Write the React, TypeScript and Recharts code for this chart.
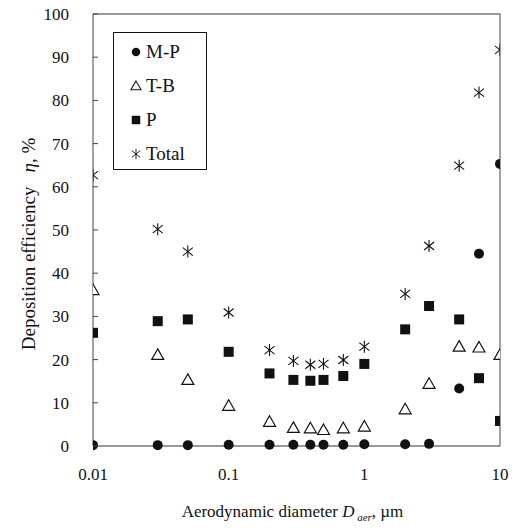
import { ScatterChart, Scatter, XAxis, YAxis, ReferenceLine, Legend, Label } from 'recharts';

// aerodynamic diameter, µm
const diameters = [0.01, 0.03, 0.05, 0.1, 0.2, 0.3, 0.4, 0.5, 0.7, 1, 2, 3, 5, 7, 10];

// deposition efficiency, %
const mpValues = [0.2, 0.2, 0.2, 0.3, 0.3, 0.3, 0.3, 0.3, 0.3, 0.4, 0.4, 0.5, 13.3, 44.5, 65.3];
const tbValues = [36.1, 21.1, 15.3, 9.3, 5.6, 4.2, 4.1, 3.7, 4.1, 4.5, 8.5, 14.4, 23.0, 22.8, 21.1];
const pValues = [26.2, 28.9, 29.3, 21.8, 16.8, 15.3, 15.1, 15.3, 16.2, 19.0, 27.0, 32.4, 29.3, 15.7, 5.8];
const totalValues = [62.7, 50.2, 45.0, 30.9, 22.2, 19.7, 18.8, 19.0, 19.9, 23.0, 35.2, 46.3, 64.9, 81.8, 91.7];

const xTicks = [0.01, 0.1, 1, 10];
const yTicks = [0, 10, 20, 30, 40, 50, 60, 70, 80, 90, 100];
const seriesNames = ['M-P', 'T-B', 'P', 'Total'];

const INK = '#111';
const FONT = 'Liberation Serif';

const toPoints = (ys: number[]) => diameters.map((x, i) => ({ x, y: ys[i] }));

const Dot = ({ cx, cy }: any) => <circle cx={cx} cy={cy} r={5} fill={INK} />;
const Tri = ({ cx, cy }: any) => (
  <path
    d={`M${cx},${cy - 6}L${cx + 6},${cy + 4.5}L${cx - 6},${cy + 4.5}Z`}
    fill="#fff"
    stroke={INK}
    strokeWidth={1.2}
  />
);
const Sq = ({ cx, cy }: any) => <rect x={cx - 5} y={cy - 5} width={10} height={10} fill={INK} />;
const Star = ({ cx, cy }: any) => (
  <g stroke={INK} strokeWidth={1.1}>
    <line x1={cx} y1={cy - 6} x2={cx} y2={cy + 6} />
    <line x1={cx - 5} y1={cy - 4} x2={cx + 5} y2={cy + 4} />
    <line x1={cx - 5} y1={cy + 4} x2={cx + 5} y2={cy - 4} />
  </g>
);

const shapes = [Dot, Tri, Sq, Star];

const renderYTick = (p: any) => (
  <g key={`y${p.payload.value}`}>
    <line x1={p.x + 24} x2={p.x + 29} y1={p.y} y2={p.y} stroke="#444" />
    <text x={p.x} y={p.y + 6} textAnchor="end" fontFamily={FONT} fontSize={17} fill={INK}>
      {p.payload.value}
    </text>
  </g>
);

const renderXTick = (p: any) => (
  <text
    key={`x${p.payload.value}`}
    x={p.x}
    y={p.y + 34}
    textAnchor="middle"
    fontFamily={FONT}
    fontSize={17}
    fill={INK}
  >
    {p.payload.value}
  </text>
);

function LegendBox() {
  return (
    <div
      style={{
        border: `1px solid ${INK}`,
        width: 94,
        height: 138,
        boxSizing: 'border-box',
        paddingTop: 2,
        background: '#fff',
        fontFamily: FONT,
        fontSize: 19,
        color: INK,
      }}
    >
      {seriesNames.map((name, i) => {
        const Shape = shapes[i];
        return (
          <div key={name} style={{ height: 34, display: 'flex', alignItems: 'center' }}>
            <svg width={14} height={14} style={{ marginLeft: 15, marginRight: 3 }}>
              <g transform="translate(7,7) scale(0.85) translate(-7,-7)">
                <Shape cx={7} cy={7} />
              </g>
            </svg>
            <span>{name}</span>
          </div>
        );
      })}
    </div>
  );
}

function XLabel({ viewBox }: any) {
  const cx = viewBox.x + viewBox.width / 2 - 4;
  return (
    <text x={cx} y={viewBox.y + 71} textAnchor="middle" fontFamily={FONT} fontSize={17} fill={INK}>
      Aerodynamic diameter{' '}
      <tspan fontStyle="italic">D</tspan>
      <tspan fontStyle="italic" fontSize={11} dy={4}> aer</tspan>
      <tspan dy={-4}>, µm</tspan>
    </text>
  );
}

function YLabel({ viewBox }: any) {
  const cy = viewBox.y + viewBox.height / 2 + 14;
  const cx = 29;
  return (
    <text
      x={cx}
      y={cy}
      transform={`rotate(-90, ${cx}, ${cy})`}
      dy={6}
      textAnchor="middle"
      fontFamily={FONT}
      fontSize={19}
      fill={INK}
    >
      Deposition efficiency
      <tspan dx={14} fontStyle="italic">η</tspan>
      <tspan>, %</tspan>
    </text>
  );
}

export default function App() {
  const series = [mpValues, tbValues, pValues, totalValues];
  const order = [1, 2, 3, 0];
  return (
    <div style={{ position: 'absolute', left: 0, top: 0, background: '#fff', fontFamily: FONT }}>
      <ScatterChart width={516} height={529} margin={{ top: 14, right: 16, bottom: 23, left: 0 }}>
        <XAxis
          type="number"
          dataKey="x"
          scale="log"
          domain={[0.01, 10]}
          ticks={xTicks}
          allowDataOverflow
          height={60}
          tickLine={false}
          tickSize={0}
          tickMargin={0}
          axisLine={{ stroke: '#333' }}
          tick={renderXTick}
        >
          <Label content={<XLabel />} />
        </XAxis>
        <YAxis
          type="number"
          dataKey="y"
          domain={[0, 100]}
          ticks={yTicks}
          width={93}
          tickLine={false}
          tickSize={0}
          tickMargin={24}
          axisLine={{ stroke: '#444' }}
          tick={renderYTick}
        >
          <Label content={<YLabel />} />
        </YAxis>
        <ReferenceLine y={100} stroke="#333" />
        <ReferenceLine x={10} stroke="#444" />
        {order.map((i) => (
          <Scatter
            key={seriesNames[i]}
            name={seriesNames[i]}
            data={toPoints(series[i])}
            shape={shapes[i]}
            isAnimationActive={false}
          />
        ))}
        <Legend
          layout="vertical"
          align="center"
          verticalAlign="middle"
          content={<LegendBox />}
          wrapperStyle={{ left: 113, top: 32, width: 94, height: 138 }}
        />
      </ScatterChart>
    </div>
  );
}
